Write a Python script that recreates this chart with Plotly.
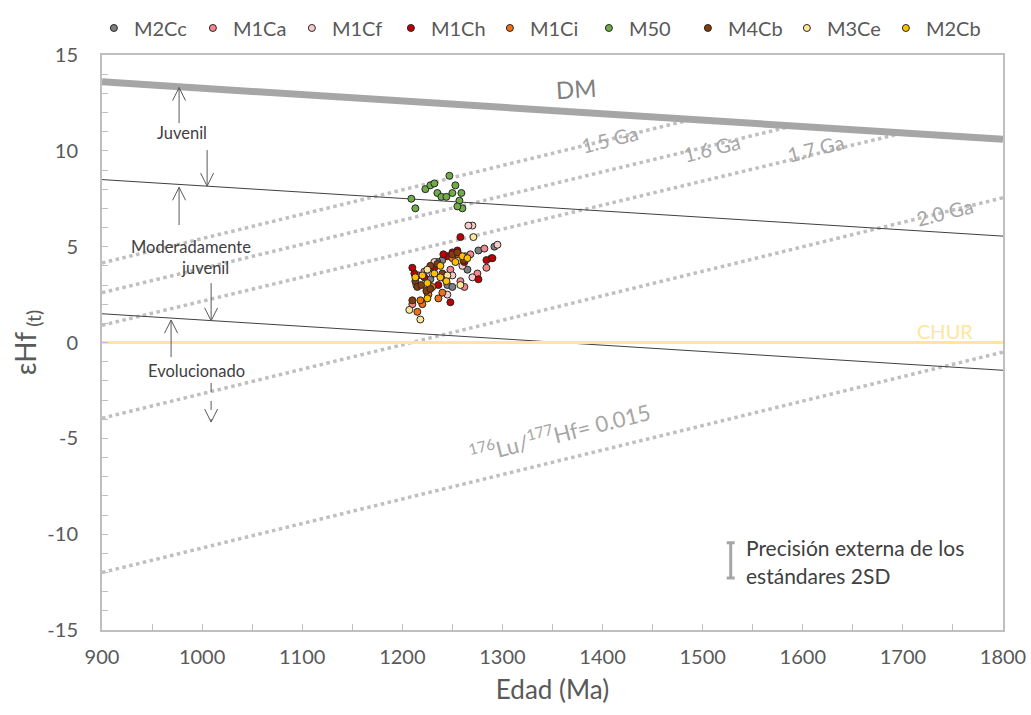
import plotly.graph_objects as go

# ---------------- data ----------------
series_names = ["M2Cc", "M1Ca", "M1Cf", "M1Ch", "M1Ci", "M50", "M4Cb", "M3Ce", "M2Cb"]
series_colors = ["#7F7F7F", "#F4868E", "#F8CBCB", "#C00000", "#F07016", "#70AD47", "#843C0C", "#FFE699", "#FFC000"]

M2Cc_age = [1292, 1276, 1263, 1240, 1235, 1228, 1245, 1265, 1216, 1250]
M2Cc_eps = [5.0, 4.8, 4.5, 4.3, 4.2, 3.3, 3.0, 3.8, 3.5, 2.9]
M1Ca_age = [1282, 1284, 1275, 1268, 1258, 1210, 1222, 1262, 1248, 1289]
M1Ca_eps = [4.9, 3.9, 3.6, 4.6, 3.2, 2.0, 3.7, 2.9, 3.8, 4.4]
M1Cf_age = [1270, 1266, 1295, 1260, 1232, 1225, 1250, 1214, 1270, 1245]
M1Cf_eps = [6.1, 6.1, 5.1, 4.0, 4.2, 2.6, 3.5, 3.0, 3.4, 2.5]
M1Ch_age = [1284, 1290, 1276, 1258, 1255, 1250, 1245, 1241, 1232, 1222, 1212, 1210, 1248, 1262, 1236]
M1Ch_eps = [4.3, 4.4, 3.3, 5.5, 4.8, 4.7, 4.5, 4.6, 3.9, 3.4, 3.6, 3.9, 2.1, 4.2, 3.0]
M1Ci_age = [1215, 1220, 1226, 1230, 1236, 1240, 1243, 1250, 1256, 1218]
M1Ci_eps = [1.6, 2.0, 2.5, 2.9, 2.3, 2.6, 3.3, 4.4, 4.6, 2.2]
M50_age = [1209, 1213, 1223, 1228, 1232, 1235, 1239, 1244, 1247, 1250, 1253, 1257, 1259, 1260, 1255]
M50_eps = [7.5, 7.0, 8.0, 8.2, 8.3, 7.8, 7.6, 7.6, 8.7, 7.8, 8.2, 7.4, 7.8, 7.0, 7.1]
M4Cb_age = [1210, 1213, 1215, 1219, 1224, 1228, 1235, 1240, 1228, 1250, 1255, 1261]
M4Cb_eps = [2.2, 3.2, 2.9, 3.0, 2.7, 2.8, 4.1, 3.6, 4.0, 4.6, 4.7, 4.3]
M3Ce_age = [1271, 1218, 1207, 1230, 1245, 1258, 1225]
M3Ce_eps = [5.5, 1.2, 1.7, 3.6, 3.5, 3.0, 3.8]
M2Cb_age = [1213, 1220, 1225, 1232, 1238, 1244, 1253, 1260, 1265, 1238, 1225]
M2Cb_eps = [3.4, 3.5, 3.1, 3.6, 3.4, 3.2, 4.2, 4.5, 4.4, 4.0, 2.3]

series_age = [M2Cc_age, M1Ca_age, M1Cf_age, M1Ch_age, M1Ci_age, M50_age, M4Cb_age, M3Ce_age, M2Cb_age]
series_eps = [M2Cc_eps, M1Ca_eps, M1Cf_eps, M1Ch_eps, M1Ci_eps, M50_eps, M4Cb_eps, M3Ce_eps, M2Cb_eps]

# reference lines
dm_age = [900, 1800]
dm_eps = [13.6, 10.6]
upper_bound_age = [900, 1800]
upper_bound_eps = [8.5, 5.55]
lower_bound_age = [900, 1800]
lower_bound_eps = [1.5, -1.45]
chur_age = [900, 1800]
chur_eps = [0, 0]

# crustal evolution lines (176Lu/177Hf = 0.015)
evo_labels = ["1.5 Ga", "1.6 Ga", "1.7 Ga", "2.0 Ga", "0.015"]
evo_age = [[900, 1490], [900, 1590], [900, 1700], [900, 1800], [900, 1800]]
evo_eps = [[4.15, 11.65], [2.6, 11.3], [0.9, 10.93], [-3.95, 7.55], [-12.0, -0.5]]

# external precision bar
prec_age = [1528]
prec_eps = [-11.37]
prec_err = [0.92]

# axis ticks
x_ticks = [900, 1000, 1100, 1200, 1300, 1400, 1500, 1600, 1700, 1800]
y_ticks = [-15, -10, -5, 0, 5, 10, 15]
y_ticktext = ["-15", "-10", "-5", "0", "5", "10", "15"]

FONT = "Lato"
fig = go.Figure()

for xs, ys in zip(evo_age, evo_eps):
    fig.add_trace(go.Scatter(x=xs, y=ys, mode="lines", showlegend=False, hoverinfo="skip",
                             line=dict(color="#BFBFBF", width=3.5, dash="dot")))

fig.add_trace(go.Scatter(x=dm_age, y=dm_eps, mode="lines", showlegend=False,
                         line=dict(color="#A6A6A6", width=7)))
fig.add_trace(go.Scatter(x=upper_bound_age, y=upper_bound_eps, mode="lines", showlegend=False,
                         line=dict(color="#404040", width=1)))
fig.add_trace(go.Scatter(x=lower_bound_age, y=lower_bound_eps, mode="lines", showlegend=False,
                         line=dict(color="#404040", width=1)))
fig.add_trace(go.Scatter(x=chur_age, y=chur_eps, mode="lines", showlegend=False,
                         line=dict(color="#FFE699", width=3)))

fig.add_trace(go.Scatter(x=prec_age, y=prec_eps, mode="markers", showlegend=False,
                         marker=dict(size=1, color="rgba(0,0,0,0)"),
                         error_y=dict(type="data", array=prec_err, color="#A6A6A6", thickness=3, width=4)))

for name, color, xs, ys in zip(series_names, series_colors, series_age, series_eps):
    fig.add_trace(go.Scatter(x=xs, y=ys, mode="markers", name=name,
                             marker=dict(size=7, color=color, line=dict(color="#262626", width=1))))

ann = []
def lab(x, y, text, size, color, angle):
    ann.append(dict(x=x, y=y, text=text, showarrow=False, textangle=angle,
                    font=dict(family=FONT, size=size, color=color)))

lab(1374, 13.25, "DM", 24, "#808080", -3.5)
lab(1407, 10.6, "1.5 Ga", 20, "#A6A6A6", -14)
lab(1509, 10.15, "1.6 Ga", 20, "#A6A6A6", -14)
lab(1613, 10.15, "1.7 Ga", 20, "#A6A6A6", -14)
lab(1742, 6.8, "2.0 Ga", 20, "#A6A6A6", -14)
lab(1742, 0.6, "CHUR", 20, "#FFE699", 0)
lab(1357, -4.67, "<sup>176</sup>Lu/<sup>177</sup>Hf= 0.015", 22, "#A6A6A6", -14)

lab(980, 10.93, "Juvenil", 16.5, "#404040", 0)
lab(989, 4.98, "Moderadamente", 16.5, "#404040", 0)
lab(1003, 3.89, "juvenil", 16.5, "#404040", 0)
lab(994, -1.49, "Evolucionado", 16.5, "#404040", 0)

# arrows drawn as thin lines with open heads: (x, head_y, tail_y, dash)
arrows = [
    (977, 13.3, 11.45, "solid"),
    (1005, 8.16, 10.04, "solid"),
    (977, 8.1, 6.13, "solid"),
    (1009, 1.13, 3.1, "solid"),
    (969, 1.17, -0.76, "solid"),
    (1009, -4.15, -2.11, "dash"),
]
HX, HY = 6.5, 0.68
for x, yh, yt, dash in arrows:
    d = 1 if yh > yt else -1
    fig.add_shape(type="line", x0=x, x1=x, y0=yt, y1=yh, line=dict(color="#595959", width=1, dash=dash))
    fig.add_shape(type="path", path=f"M {x-HX},{yh-d*HY} L {x},{yh} L {x+HX},{yh-d*HY}",
                  line=dict(color="#595959", width=1))

ann.append(dict(x=1541, y=-10.72, text="Precisión externa de los", showarrow=False, xanchor="left",
                font=dict(family=FONT, size=21, color="#404040")))
ann.append(dict(x=1541, y=-12.15, text="estándares 2SD", showarrow=False, xanchor="left",
                font=dict(family=FONT, size=21, color="#404040")))

fig.update_layout(
    width=1031, height=715,
    margin=dict(l=102, r=28, t=55, b=85, autoexpand=False),
    paper_bgcolor="white", plot_bgcolor="white",
    font=dict(family=FONT, color="#595959"),
    annotations=ann,
    legend=dict(orientation="h", x=-0.009, xanchor="left", y=1.047, yanchor="middle",
                font=dict(family=FONT, size=20, color="#595959"), itemwidth=30,
                tracegroupgap=0, entrywidth=54),
    xaxis=dict(range=[900, 1800], tickvals=x_ticks, showgrid=False, zeroline=False, automargin=False,
               showline=True, linecolor="#BFBFBF", linewidth=2, mirror=True,
               ticks="inside", ticklen=6, tickcolor="#BFBFBF", ticklabelstandoff=8,
               minor=dict(dtick=50, tick0=900, ticks="inside", ticklen=6, tickcolor="#BFBFBF", showgrid=False),
               tickfont=dict(family=FONT, size=20, color="#595959"),
               title=dict(text="Edad (Ma)", font=dict(family=FONT, size=26, color="#595959"), standoff=14)),
    yaxis=dict(range=[-15, 15], tickvals=y_ticks, ticktext=y_ticktext, showgrid=False, zeroline=False,
               automargin=False,
               showline=True, linecolor="#BFBFBF", linewidth=2, mirror=True,
               ticks="inside", ticklen=6, tickcolor="#BFBFBF", ticklabelstandoff=18,
               minor=dict(dtick=1, tick0=0, ticks="inside", ticklen=6, tickcolor="#BFBFBF", showgrid=False),
               tickfont=dict(family=FONT, size=20, color="#595959"),
               title=dict(text="εHf<sub> (t)</sub>", font=dict(family=FONT, size=28, color="#595959"), standoff=3)),
)

fig.write_html("out.html")
